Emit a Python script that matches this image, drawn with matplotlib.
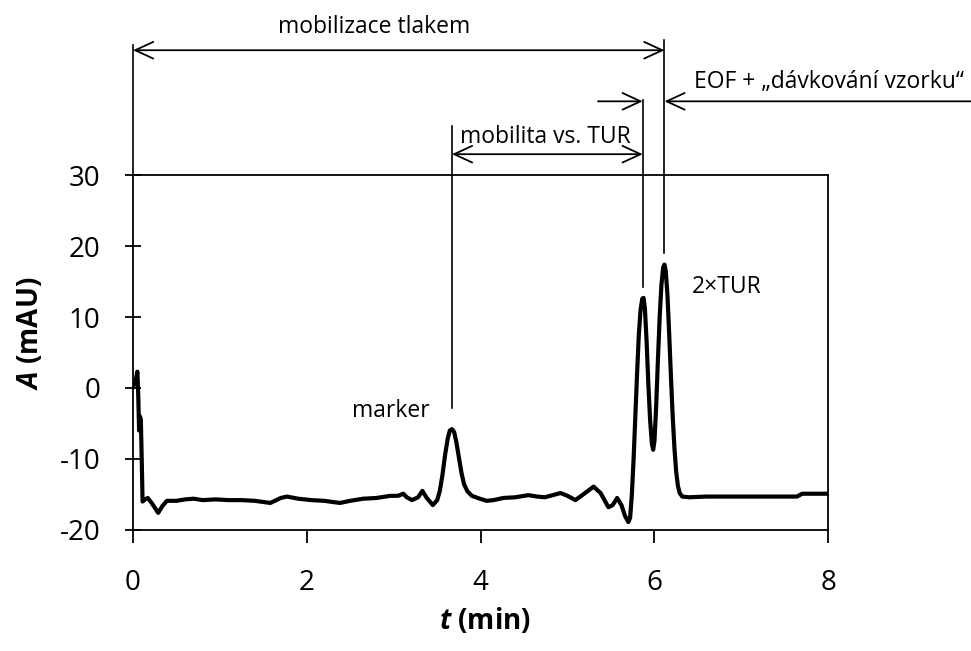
import matplotlib
matplotlib.use("Agg")
import matplotlib.pyplot as plt

plt.rcParams['font.family'] = ['Open Sans', 'DejaVu Sans']
plt.rcParams['axes.unicode_minus'] = False
plt.rcParams['mathtext.fontset'] = 'custom'
plt.rcParams['mathtext.it'] = 'Open Sans:italic:bold'
plt.rcParams['mathtext.bf'] = 'Open Sans:bold'

# electropherogram trace, time in min, absorbance in mAU
t = [0.00, 0.03, 0.05, 0.06, 0.07, 0.08, 0.09, 0.10, 0.11, 0.14,
     0.17, 0.22, 0.29, 0.34, 0.39, 0.50, 0.60, 0.70, 0.80, 0.95,
     1.10, 1.25, 1.40, 1.58, 1.70, 1.77, 1.90, 2.05, 2.20, 2.38,
     2.50, 2.65, 2.80, 2.96, 3.05, 3.11, 3.15, 3.21, 3.28, 3.33,
     3.38, 3.45, 3.50, 3.53, 3.56, 3.59, 3.62, 3.645, 3.67, 3.695,
     3.72, 3.75, 3.78, 3.81, 3.85, 3.90, 3.99, 4.07, 4.15, 4.26,
     4.40, 4.55, 4.65, 4.74, 4.83, 4.92, 5.00, 5.09, 5.18, 5.30,
     5.38, 5.47, 5.52, 5.57, 5.62, 5.66, 5.70, 5.72, 5.74, 5.76,
     5.78, 5.80, 5.82, 5.84, 5.86, 5.875, 5.89, 5.91, 5.93, 5.95,
     5.97, 5.985, 6.00, 6.02, 6.04, 6.06, 6.08, 6.10, 6.115, 6.13,
     6.15, 6.17, 6.19, 6.21, 6.23, 6.25, 6.27, 6.29, 6.32, 6.40,
     6.60, 6.90, 7.20, 7.45, 7.64, 7.70, 8.00]
A = [0.2, 1.0, 2.3, -1.0, -6.0, -4.0, -4.5, -10.0, -16.0, -15.7,
     -15.5, -16.3, -17.6, -16.6, -15.9, -15.9, -15.7, -15.6, -15.8, -15.7,
     -15.8, -15.8, -15.9, -16.2, -15.5, -15.3, -15.6, -15.8, -15.9, -16.2,
     -15.9, -15.6, -15.5, -15.2, -15.2, -14.9, -15.4, -15.8, -15.4, -14.5,
     -15.5, -16.5, -15.8, -14.5, -12.3, -9.5, -7.2, -6.0, -5.8, -6.2,
     -7.6, -9.8, -12.0, -13.6, -14.6, -15.2, -15.6, -15.9, -15.8, -15.5,
     -15.4, -15.1, -15.3, -15.4, -15.1, -14.8, -15.2, -15.8, -15.0, -13.9,
     -14.8, -16.8, -16.5, -15.5, -16.5, -18.0, -18.9, -18.3, -15.0, -10.0,
     -4.0, 2.0, 7.5, 11.0, 12.6, 12.7, 11.2, 6.5, 0.5, -4.5,
     -7.8, -8.7, -7.5, -2.5, 4.0, 10.0, 14.5, 17.0, 17.4, 16.5,
     13.0, 7.5, 1.5, -4.0, -8.5, -11.8, -13.8, -14.8, -15.3, -15.4,
     -15.3, -15.3, -15.3, -15.3, -15.3, -14.9, -14.9]

# migration times used for the annotations
t_start = 0.0
t_marker = 3.67
t_tur1 = 5.865
t_tur2 = 6.115

xticks = [0, 2, 4, 6, 8]
yticks = [-20, -10, 0, 10, 20, 30]

fig = plt.figure(figsize=(9.71, 6.51), dpi=100)
ax = fig.add_axes([0.137, 0.186, 0.716, 0.545])

ax.plot(t, A, color='black', lw=3.0, solid_joinstyle='round')
ax.set_xlim(0, 8)
ax.set_ylim(-20, 30)
ax.set_xticks(xticks)
ax.set_yticks(yticks)

for s in ax.spines.values():
    s.set_linewidth(1.3)
ax.tick_params(axis='y', direction='inout', length=11, width=1.3, pad=18, labelsize=20)
ax.tick_params(axis='x', direction='out', length=9, width=1.3, pad=19, labelsize=20)

ax.set_xlabel('$t$ (min)', fontsize=20, fontweight='bold')
ax.set_ylabel('$A$ (mAU)', fontsize=20, fontweight='bold')
ax.xaxis.set_label_coords(0.506, -0.215)
ax.yaxis.set_label_coords(-0.127, 0.555)

# annotation lines and arrows (x in data, y in axes fraction)
tr = ax.get_xaxis_transform()
lkw = dict(color='black', lw=1.2, transform=tr, clip_on=False)
ax.plot([t_start, t_start], [1.0, 1.366], **lkw)
ax.plot([t_marker, t_marker], [0.344, 1.138], **lkw)
ax.plot([t_tur1, t_tur1], [0.685, 1.211], **lkw)
ax.plot([t_tur2, t_tur2], [0.780, 1.380], **lkw)

akw = dict(color='black', lw=1.3, shrinkA=0, shrinkB=0, mutation_scale=10)
both = '<->,head_length=1.3,head_width=0.6'
one = '->,head_length=1.3,head_width=0.6'
ax.annotate('', xy=(t_tur2, 1.352), xytext=(t_start, 1.352), xycoords=tr,
            arrowprops=dict(arrowstyle=both, **akw), annotation_clip=False)
ax.annotate('', xy=(t_tur1, 1.059), xytext=(t_marker, 1.059), xycoords=tr,
            arrowprops=dict(arrowstyle=both, **akw), annotation_clip=False)
ax.annotate('', xy=(t_tur1, 1.208), xytext=(5.35, 1.208), xycoords=tr,
            arrowprops=dict(arrowstyle=one, **akw), annotation_clip=False)
ax.annotate('', xy=(t_tur2, 1.208), xytext=(9.65, 1.208), xycoords=tr,
            arrowprops=dict(arrowstyle=one, **akw), annotation_clip=False)

tkw = dict(transform=tr, fontsize=16.5, clip_on=False)
ax.text(2.77, 1.417, 'mobilizace tlakem', ha='center', va='center', **tkw)
ax.text(3.76, 1.107, 'mobilita vs. TUR', ha='left', va='center', **tkw)
ax.text(6.45, 1.262, 'EOF + „dávkování vzorku“', ha='left', va='center', **tkw)
ax.text(2.97, 0.335, 'marker', ha='center', va='center', **tkw)
ax.text(6.43, 0.685, '2×TUR', ha='left', va='center', **tkw)

fig.savefig('out.png', dpi=100)
